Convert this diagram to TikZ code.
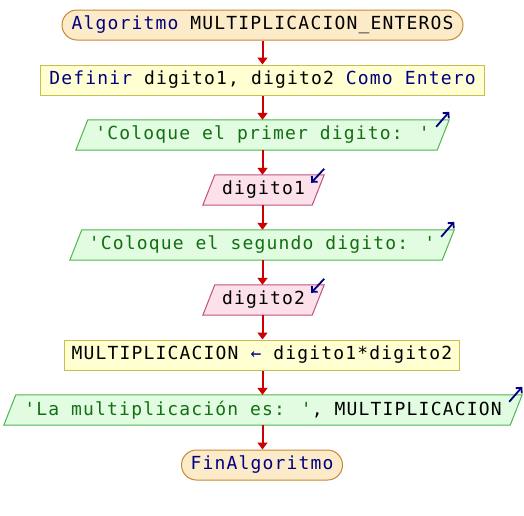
\documentclass[tikz,border=0pt]{standalone}
\usepackage{fontspec}
\usetikzlibrary{arrows.meta,backgrounds}
\newfontfamily\codefont[LetterSpace=6.5]{DejaVu Sans Mono}
\definecolor{kwcol}{RGB}{0,0,128}
\definecolor{strcol}{RGB}{20,110,20}
\definecolor{termfill}{RGB}{252,235,200}
\definecolor{termdraw}{RGB}{200,135,50}
\definecolor{procfill}{RGB}{255,255,210}
\definecolor{procdraw}{RGB}{200,190,80}
\definecolor{outfill}{RGB}{225,252,225}
\definecolor{outdraw}{RGB}{80,180,80}
\definecolor{infill}{RGB}{252,225,235}
\definecolor{indraw}{RGB}{190,80,130}
\definecolor{flowcol}{RGB}{204,0,0}
\newcommand{\kwd}[1]{\textcolor{kwcol}{#1}}
\newcommand{\strg}[1]{\textcolor{strcol}{#1}}
\begin{document}
\begin{tikzpicture}[x=1pt,y=-1pt,
  every node/.style={font=\codefont\fontsize{18}{20}\selectfont, inner sep=0pt, minimum height=30pt, text=black},
  termbox/.style={draw=termdraw, fill=termfill, line width=1pt, rounded corners=15pt},
  procbox/.style={draw=procdraw, fill=procfill, line width=1pt},
  iobox/.style={},
  outshape/.style={draw=outdraw, fill=outfill, line width=1pt},
  inshape/.style={draw=indraw, fill=infill, line width=1pt},
  flow/.style={draw=flowcol, line width=2pt, -{Triangle[length=7pt,width=10pt]}},
  iconarrow/.style={draw=kwcol, line width=1.8pt, -{Straight Barb[length=4pt,width=8pt]}}
]
\useasboundingbox (0,0) rectangle (524,515);

\node[termbox, minimum width=401pt] (start) at (262.5,25) {\kwd{Algoritmo} MULTIPLICACION\_ENTEROS};
\node[procbox, minimum width=444pt] (def) at (262.5,80) {\kwd{Definir} digito1, digito2 \kwd{Como Entero}};
\node[iobox, minimum width=373pt] (out1) at (262.5,135) {\strg{'Coloque el primer digito: '}};
\node[iobox, minimum width=121pt] (in1) at (263.5,190) {digito1};
\node[iobox, minimum width=384pt] (out2) at (262,245) {\strg{'Coloque el segundo digito: '}};
\node[iobox, minimum width=121pt] (in2) at (263.5,300) {digito2};
\node[procbox, minimum width=395pt] (proc) at (262,355) {MULTIPLICACION \kwd{←} digito1*digito2};
\node[iobox, minimum width=518pt] (out3) at (263,410) {\strg{'La multiplicación es: '}, MULTIPLICACION};
\node[termbox, minimum width=161pt] (end) at (262,465) {\kwd{FinAlgoritmo}};

\begin{pgfonlayer}{background}
\foreach \n in {out1,out2,out3}{
  \draw[outshape] ([xshift=12pt]\n.north west) -- (\n.north east) -- ([xshift=-12pt]\n.south east) -- (\n.south west) -- cycle;
}
\foreach \n in {in1,in2}{
  \draw[inshape] ([xshift=12pt]\n.north west) -- (\n.north east) -- ([xshift=-12pt]\n.south east) -- (\n.south west) -- cycle;
}
\end{pgfonlayer}

\foreach \n in {out1,out2,out3}{
  \draw[iconarrow] ([shift={(-13,7)}]\n.north east) -- ([shift={(0,-8)}]\n.north east);
}
\foreach \n in {in1,in2}{
  \draw[iconarrow] ([shift={(0,-6)}]\n.north east) -- ([shift={(-13,8)}]\n.north east);
}

\draw[flow] (start.south -| 262.5,0) -- (def.north -| 262.5,0);
\draw[flow] (def.south -| 262.5,0) -- (out1.north -| 262.5,0);
\draw[flow] (out1.south -| 262.5,0) -- (in1.north -| 262.5,0);
\draw[flow] (in1.south -| 262.5,0) -- (out2.north -| 262.5,0);
\draw[flow] (out2.south -| 262.5,0) -- (in2.north -| 262.5,0);
\draw[flow] (in2.south -| 262.5,0) -- (proc.north -| 262.5,0);
\draw[flow] (proc.south -| 262.5,0) -- (out3.north -| 262.5,0);
\draw[flow] (out3.south -| 262.5,0) -- (end.north -| 262.5,0);
\end{tikzpicture}
\end{document}
